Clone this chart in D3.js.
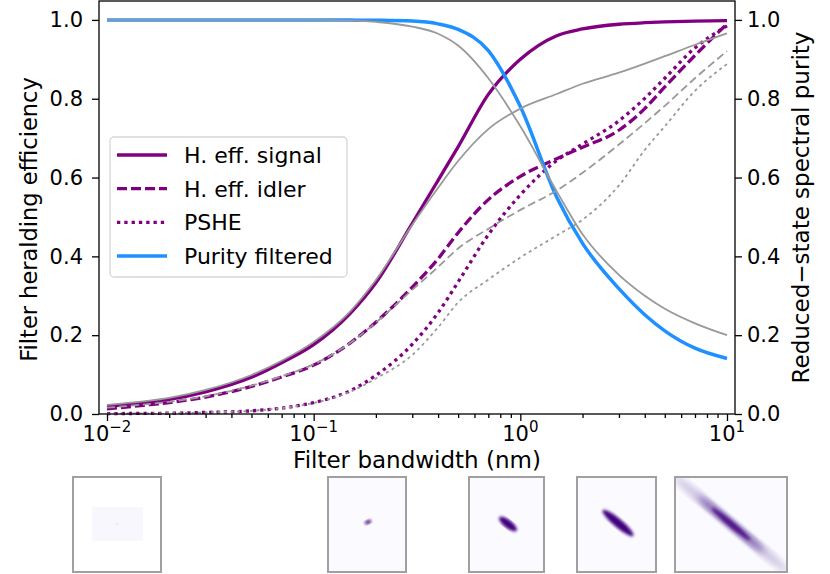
<!DOCTYPE html>
<html>
  <style>
    body { margin: 0; background: white; }
    text { font-family: "DejaVu Sans", sans-serif; fill: black; }
  </style>
  <body>
    <div id="chart"></div>
  </body>
  <script src="https://cdn.jsdelivr.net/npm/d3@7"></script>
  <script>
    // Filter bandwidth values (nm) the curves are sampled at
    const BANDWIDTH = [0.01, 0.015, 0.02, 0.03, 0.05, 0.07, 0.1, 0.15, 0.2, 0.3, 0.4, 0.5, 0.7, 1, 1.5, 2, 3, 4, 5, 7, 10];

    // Heralding efficiency, filtered (purple) and unfiltered reference (gray)
    const EFF_SIGNAL = [0.019, 0.029, 0.037, 0.056, 0.093, 0.13, 0.176, 0.255, 0.333, 0.484, 0.593, 0.678, 0.811, 0.90, 0.96, 0.977, 0.989, 0.993, 0.995, 0.997, 0.998];
    const EFF_SIGNAL_REF = [0.023, 0.032, 0.041, 0.061, 0.099, 0.135, 0.183, 0.26, 0.34, 0.48, 0.574, 0.642, 0.723, 0.775, 0.812, 0.838, 0.866, 0.889, 0.908, 0.937, 0.966];
    const EFF_IDLER = [0.013, 0.022, 0.029, 0.043, 0.07, 0.094, 0.124, 0.18, 0.233, 0.322, 0.394, 0.46, 0.544, 0.603, 0.648, 0.677, 0.72, 0.775, 0.83, 0.91, 0.99];
    const EFF_IDLER_REF = [0.016, 0.024, 0.031, 0.045, 0.072, 0.096, 0.126, 0.18, 0.232, 0.315, 0.373, 0.42, 0.47, 0.518, 0.567, 0.612, 0.684, 0.738, 0.782, 0.852, 0.921];
    const PSHE = [0.001, 0.0015, 0.002, 0.004, 0.008, 0.015, 0.029, 0.059, 0.098, 0.177, 0.257, 0.335, 0.455, 0.556, 0.643, 0.685, 0.744, 0.801, 0.852, 0.929, 0.985];
    const PSHE_REF = [0.001, 0.0015, 0.002, 0.004, 0.008, 0.015, 0.028, 0.056, 0.09, 0.15, 0.22, 0.283, 0.341, 0.397, 0.453, 0.493, 0.58, 0.67, 0.73, 0.82, 0.888];

    // Reduced-state spectral purity (right axis)
    const PURITY = [1, 1, 1, 1, 1, 1, 1, 0.9995, 0.999, 0.997, 0.99, 0.976, 0.922, 0.78, 0.55, 0.433, 0.318, 0.252, 0.211, 0.167, 0.141];
    const PURITY_REF = [1, 1, 1, 1, 1, 1, 1, 0.999, 0.995, 0.983, 0.965, 0.935, 0.852, 0.73, 0.565, 0.456, 0.353, 0.30, 0.267, 0.23, 0.20];

    const X_TICKS = [0.01, 0.1, 1, 10];
    const X_TICK_EXP = ['\u22122', '\u22121', '0', '1'];
    const Y_TICKS = [0, 0.2, 0.4, 0.6, 0.8, 1.0];

    const LEGEND_LABELS = ['H. eff. signal', 'H. eff. idler', 'PSHE', 'Purity filtered'];

    // Joint spectral intensity thumbnails below the axis
    const THUMB_BLOB_LEN = [1, 7, 22, 40, 150];
    const THUMB_BLOB_WID = [1, 3.5, 8, 8.5, 9];

    var PURPLE = '#800080';
    var BLUE = '#1e90ff';
    var GRAY = '#999999';

    var W = 830, H = 574;
    var LEFT = 99, RIGHT = 735, TOP = 1, BOTTOM = 414;
    var FONT = 21;
    var LABEL_FONT = 23;

    var svg = d3.select('#chart').append('svg')
      .attr('width', W).attr('height', H);

    var x = d3.scaleLog()
      .domain([Math.pow(10, -2.0387), Math.pow(10, 1.0387)])
      .range([LEFT, RIGHT]);
    var y = d3.scaleLinear().domain([0, 1.048]).range([BOTTOM, TOP]);

    var line = function(vals) {
      return d3.line()
        .x(function(d, i) { return x(BANDWIDTH[i]); })
        .y(function(d) { return y(d); })
        .curve(d3.curveMonotoneX)(vals);
    };

    // Main series
    var series = [
      { vals: EFF_SIGNAL, color: PURPLE, width: 3.3, dash: null },
      { vals: EFF_IDLER, color: PURPLE, width: 3.3, dash: '10,4' },
      { vals: PSHE, color: PURPLE, width: 3.3, dash: '3.3,4' },
      { vals: PURITY, color: BLUE, width: 3.5, dash: null },
      { vals: EFF_SIGNAL_REF, color: GRAY, width: 1.8, dash: null },
      { vals: EFF_IDLER_REF, color: GRAY, width: 1.8, dash: '8,4' },
      { vals: PSHE_REF, color: GRAY, width: 1.8, dash: '3,3.5' },
      { vals: PURITY_REF, color: GRAY, width: 1.8, dash: null }
    ];

    series.forEach(function(s) {
      svg.append('path')
        .attr('d', line(s.vals))
        .attr('fill', 'none')
        .attr('stroke', s.color)
        .attr('stroke-width', s.width)
        .attr('stroke-dasharray', s.dash);
    });

    // Frame
    svg.append('rect')
      .attr('x', LEFT).attr('y', TOP)
      .attr('width', RIGHT - LEFT).attr('height', BOTTOM - TOP)
      .attr('fill', 'none').attr('stroke', 'black').attr('stroke-width', 1.3);

    // Left and right y axes
    var yLeft = svg.append('g')
      .attr('transform', 'translate(' + LEFT + ',0)')
      .call(d3.axisLeft(y).tickValues(Y_TICKS).tickFormat(d3.format('.1f')).tickSize(7).tickPadding(9));
    var yRight = svg.append('g')
      .attr('transform', 'translate(' + RIGHT + ',0)')
      .call(d3.axisRight(y).tickValues(Y_TICKS).tickFormat(d3.format('.1f')).tickSize(7).tickPadding(5));

    // x axis: major and minor ticks
    var minor = [];
    [0.01, 0.1, 1].forEach(function(dec) {
      for (var k = 2; k <= 9; k++) minor.push(dec * k);
    });
    minor = minor.filter(function(v) { return v <= x.domain()[1]; });

    var xMajor = svg.append('g')
      .attr('transform', 'translate(0,' + BOTTOM + ')')
      .call(d3.axisBottom(x).tickValues(X_TICKS).tickFormat('').tickSize(7));
    var xMinor = svg.append('g')
      .attr('transform', 'translate(0,' + BOTTOM + ')')
      .call(d3.axisBottom(x).tickValues(minor).tickFormat('').tickSize(4));

    [yLeft, yRight, xMajor, xMinor].forEach(function(g) {
      g.select('.domain').remove();
      g.selectAll('line').attr('stroke-width', 1.3);
      g.selectAll('text').style('font-size', FONT + 'px').style('font-family', '"DejaVu Sans", sans-serif');
    });

    // x tick labels as powers of ten
    X_TICKS.forEach(function(v, i) {
      var t = svg.append('text')
        .attr('x', x(v)).attr('y', 441)
        .attr('text-anchor', 'middle')
        .style('font-size', FONT + 'px');
      t.append('tspan').text('10');
      t.append('tspan').attr('dy', -9).style('font-size', '15px').text(X_TICK_EXP[i]);
    });

    // Axis labels
    svg.append('text')
      .attr('x', (LEFT + RIGHT) / 2).attr('y', 468)
      .attr('text-anchor', 'middle')
      .style('font-size', LABEL_FONT + 'px')
      .text('Filter bandwidth (nm)');

    svg.append('text')
      .attr('transform', 'translate(37,' + ((TOP + BOTTOM) / 2 + 12) + ') rotate(-90)')
      .attr('text-anchor', 'middle')
      .style('font-size', '22.5px')
      .text('Filter heralding efficiency');

    svg.append('text')
      .attr('transform', 'translate(809,' + ((TOP + BOTTOM) / 2) + ') rotate(-90)')
      .attr('text-anchor', 'middle')
      .style('font-size', LABEL_FONT + 'px')
      .text('Reduced\u2212state spectral purity');

    // Legend
    var legend = svg.append('g').attr('transform', 'translate(110,137)');
    legend.append('rect')
      .attr('width', 237).attr('height', 140).attr('rx', 4)
      .attr('fill', 'white').attr('fill-opacity', 0.8)
      .attr('stroke', '#d6d6d6').attr('stroke-width', 1.3);

    LEGEND_LABELS.forEach(function(label, i) {
      var s = series[i];
      var row = legend.append('g').attr('transform', 'translate(0,' + (18 + i * 33.7) + ')');
      row.append('line')
        .attr('x1', 7).attr('x2', 57)
        .attr('stroke', s.color)
        .attr('stroke-width', s.width)
        .attr('stroke-dasharray', s.dash);
      row.append('text')
        .attr('x', 74).attr('dy', '0.36em')
        .style('font-size', '22px')
        .text(label);
    });

    // Thumbnails of the filtered joint spectrum
    var defs = svg.append('defs');
    defs.append('filter').attr('id', 'blur1').append('feGaussianBlur').attr('stdDeviation', 1.5);
    defs.append('filter').attr('id', 'blur3').append('feGaussianBlur').attr('stdDeviation', 3);

    var boxes = [
      { x0: 73, x1: 161, cx: 117, cy: 524, angle: 0 },
      { x0: 328, x1: 406, cx: 368, cy: 522, angle: -25 },
      { x0: 469, x1: 544, cx: 508, cy: 524, angle: 38 },
      { x0: 577, x1: 656, cx: 618, cy: 523, angle: 40 },
      { x0: 675, x1: 787, cx: 731, cy: 524, angle: 40 }
    ];

    boxes.forEach(function(b, i) {
      var g = svg.append('g');
      var clipId = 'clip' + i;
      defs.append('clipPath').attr('id', clipId)
        .append('rect').attr('x', b.x0).attr('y', 477).attr('width', b.x1 - b.x0).attr('height', 95);

      g.append('rect')
        .attr('x', b.x0).attr('y', 477).attr('width', b.x1 - b.x0).attr('height', 95)
        .attr('fill', i === 0 ? 'white' : '#fbfaff');

      var inner = g.append('g').attr('clip-path', 'url(#' + clipId + ')');
      if (i === 0) {
        inner.append('rect')
          .attr('x', 92).attr('y', 507).attr('width', 51).attr('height', 34)
          .attr('fill', '#f8f7fd');
        inner.append('circle').attr('cx', b.cx).attr('cy', b.cy).attr('r', 0.6).attr('fill', '#b3a9d3');
      } else {
        var tr = 'translate(' + b.cx + ',' + b.cy + ') rotate(' + b.angle + ')';
        if (i === 4) {
          // long faint streak with a dense core
          inner.append('ellipse')
            .attr('transform', tr)
            .attr('rx', THUMB_BLOB_LEN[i] / 2).attr('ry', THUMB_BLOB_WID[i] * 0.7)
            .attr('fill', '#6a51a3').attr('opacity', 0.3)
            .attr('filter', 'url(#blur3)');
          inner.append('ellipse')
            .attr('transform', tr)
            .attr('rx', THUMB_BLOB_LEN[i] / 3.5).attr('ry', THUMB_BLOB_WID[i] / 2)
            .attr('fill', '#54278f').attr('opacity', 0.6)
            .attr('filter', 'url(#blur3)');
          inner.append('ellipse')
            .attr('transform', tr)
            .attr('rx', THUMB_BLOB_LEN[i] / 6).attr('ry', THUMB_BLOB_WID[i] / 3)
            .attr('fill', '#3f007d').attr('opacity', 0.8)
            .attr('filter', 'url(#blur1)');
        } else {
          inner.append('ellipse')
            .attr('transform', tr)
            .attr('rx', THUMB_BLOB_LEN[i] / 2).attr('ry', THUMB_BLOB_WID[i] / 2)
            .attr('fill', '#3f007d')
            .attr('filter', 'url(#blur1)');
        }
      }

      g.append('rect')
        .attr('x', b.x0).attr('y', 477).attr('width', b.x1 - b.x0).attr('height', 95)
        .attr('fill', 'none').attr('stroke', '#a0a0a0').attr('stroke-width', 2);
    });
  </script>
</html>
